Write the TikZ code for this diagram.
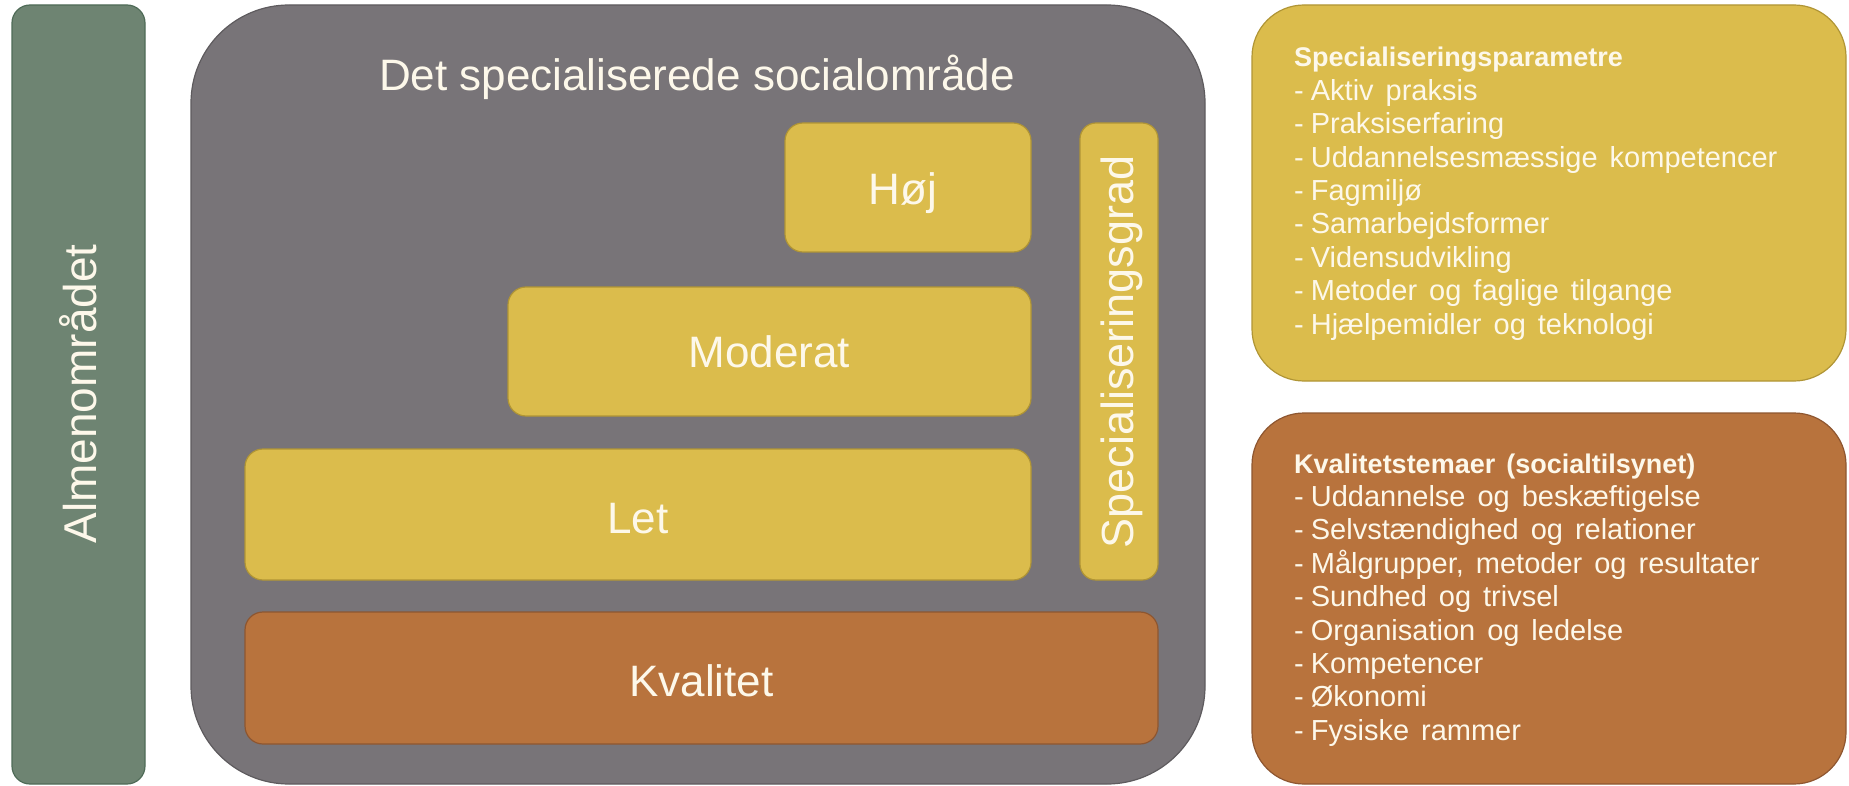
\documentclass[tikz,border=0pt]{standalone}
\usepackage{fontspec}
\setmainfont{Liberation Sans}
\definecolor{greenfill}{HTML}{6E8472}
\definecolor{greenline}{HTML}{4F6B57}
\definecolor{grayfill}{HTML}{787478}
\definecolor{grayline}{HTML}{5E5B5E}
\definecolor{yelfill}{HTML}{DBBC4C}
\definecolor{yelline}{HTML}{B09535}
\definecolor{brnfill}{HTML}{B8733D}
\definecolor{brnline}{HTML}{8E5630}
\definecolor{txt}{HTML}{FDF8EA}
\newcommand\listfnt{\fontsize{29}{33}\selectfont\spaceskip 12pt plus 2pt\relax}
\newcommand\headfnt{\bfseries\fontsize{27}{33}\selectfont\spaceskip 11pt\relax}
\newcommand\itm[1]{-\hskip 7pt #1}
\tikzset{
  panel/.style={draw=#1, line width=1.2pt, inner sep=0pt, outer sep=0pt, rectangle},
  lbl/.style={text=txt, inner sep=0pt},
  listline/.style={text=txt, inner sep=0pt, anchor=base west, font=\listfnt},
  listhead/.style={listline, font=\headfnt},
}
\begin{document}
\begin{tikzpicture}[x=1pt,y=-1pt]
\useasboundingbox (0,0) rectangle (1849,786);
% left green
\node[panel=greenline, fill=greenfill, rounded corners=18pt, minimum width=133pt, minimum height=779pt] (alm) at (78.5,394.5) {};
\node[lbl, rotate=90, font=\fontsize{46}{50}\selectfont] (almt) at (78,394) {Almenområdet};
% gray
\node[panel=grayline, fill=grayfill, rounded corners=98pt, minimum width=1014pt, minimum height=779pt] (spec) at (698,394.5) {};
\node[lbl, anchor=base, font=\fontsize{44}{48}\selectfont] (title) at (697,91) {Det specialiserede socialområde};
% inner boxes
\node[panel=yelline, fill=yelfill, rounded corners=18pt, minimum width=246pt, minimum height=129pt] (hoj) at (908,187.5) {};
\node[panel=yelline, fill=yelfill, rounded corners=18pt, minimum width=523pt, minimum height=129pt] (mod) at (769.5,351.5) {};
\node[panel=yelline, fill=yelfill, rounded corners=18pt, minimum width=786pt, minimum height=131pt] (let) at (638,514.5) {};
\node[panel=yelline, fill=yelfill, rounded corners=16pt, minimum width=78pt, minimum height=457pt] (grad) at (1119,351.5) {};
\node[panel=brnline, fill=brnfill, rounded corners=18pt, minimum width=913pt, minimum height=132pt] (kval) at (701.5,678) {};
\node[lbl, anchor=base, font=\fontsize{44}{48}\selectfont] (hojt) at (903,205) {Høj};
\node[lbl, anchor=base, font=\fontsize{44}{48}\selectfont] (modt) at (769.5,367) {Moderat};
\node[lbl, anchor=base, font=\fontsize{44}{48}\selectfont] (lett) at (638,533) {Let};
\node[lbl, anchor=base, font=\fontsize{44}{48}\selectfont] (kvalt) at (701.5,696) {Kvalitet};
\node[lbl, rotate=90, font=\fontsize{45}{49}\selectfont] (gradt) at (1122,352) {Specialiseringsgrad};
% right boxes
\node[panel=yelline, fill=yelfill, rounded corners=52pt, minimum width=594pt, minimum height=376pt] (par) at (1549,193) {};
\node[panel=brnline, fill=brnfill, rounded corners=52pt, minimum width=594pt, minimum height=371pt] (tem) at (1549,598.5) {};
\node[listhead] (p0) at (1294,67) {Specialiseringsparametre};
\foreach \t [count=\i] in {Aktiv praksis, Praksiserfaring, Uddannelsesmæssige kompetencer, Fagmiljø, Samarbejdsformer, Vidensudvikling, Metoder og faglige tilgange, Hjælpemidler og teknologi}
  \node[listline] (p\i) at (1294,67+33.4*\i) {\itm{\t}};
\node[listhead] (q0) at (1294,473) {Kvalitetstemaer (socialtilsynet)};
\foreach \t [count=\i] in {Uddannelse og beskæftigelse, Selvstændighed og relationer, {Målgrupper, metoder og resultater}, Sundhed og trivsel, Organisation og ledelse, Kompetencer, Økonomi, Fysiske rammer}
  \node[listline] (q\i) at (1294,473+33.4*\i) {\itm{\t}};
\end{tikzpicture}
\end{document}
